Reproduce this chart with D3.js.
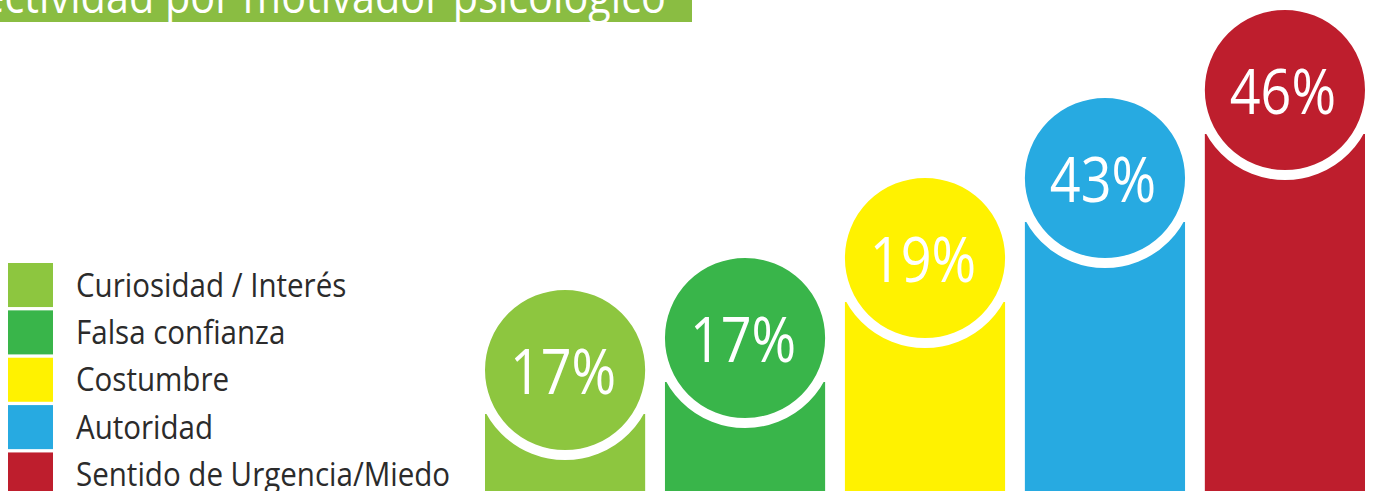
<!DOCTYPE html>
<html>
<head>
<meta charset="utf-8">
<script src="https://cdn.jsdelivr.net/npm/d3@7"></script>
<style>
  body { margin: 0; background: #fff; }
  svg { display: block; }
</style>
</head>
<body>
<div id="chart"></div>
<script>
var drawChart = function(){
	// Data
	var categories = ["Curiosidad / Interés", "Falsa confianza", "Costumbre", "Autoridad", "Sentido de Urgencia/Miedo"];
	var values = [17, 17, 19, 43, 46];
	var colors = ["#8dc63f", "#39b54a", "#fff200", "#27aae1", "#be1e2d"];
	var title = "Efectividad por motivador psicológico";

	// Size of the SVG
	const width = 1379;
	const height = 491;

	var fontFamily = "'Open Sans', 'Noto Sans', sans-serif";
	var textColor = "#2b2b2b";

	var svg = d3.select('#chart')
		.append('svg')
		.attr("width", width)
		.attr("height", height);

	var data = categories.map(function(c, i){
		return {"index": i, "category": c, "value": values[i], "color": colors[i]};
	});

	// Title banner, cut off at the top-left like the original
	svg.append("rect")
		.attr("x", 0).attr("y", 0)
		.attr("width", 692).attr("height", 22)
		.attr("fill", "#8abd42");

	// glyphs narrowed with scale(), the original font is condensed
	svg.append("g")
		.attr("transform", "translate(666,13) scale(0.92,1)")
		.append("text")
		.attr("text-anchor", "end")
		.attr("font-family", fontFamily)
		.attr("font-size", 45)
		.attr("fill", "white")
		.text(title);

	// Bars: band scale across, stepped levels up (the infographic is ranked, not proportional)
	var x = d3.scaleBand()
		.domain(categories)
		.range([485, 1365])
		.paddingInner(0.11)
		.paddingOuter(0);

	var level = d3.scaleLinear()
		.domain(d3.range(categories.length))
		.range([370, 338, 258, 178, 90]);

	var r = x.bandwidth() / 2;
	var ring = 10;

	var bars = svg.append("g").attr("class", "bars")
		.selectAll("g")
		.data(data)
		.enter().append("g");

	bars.append("rect")
		.attr("x", function(d){ return x(d.category); })
		.attr("y", function(d){ return level(d.index) + 44; })
		.attr("width", x.bandwidth())
		.attr("height", function(d){ return height - level(d.index) - 44; })
		.attr("fill", function(d){ return d.color; });

	bars.append("circle")
		.attr("cx", function(d){ return x(d.category) + r; })
		.attr("cy", function(d){ return level(d.index); })
		.attr("r", r + ring / 2)
		.attr("fill", function(d){ return d.color; })
		.attr("stroke", "white")
		.attr("stroke-width", ring);

	bars.append("g")
		.attr("transform", function(d){
			return "translate(" + (x(d.category) + r - 2) + "," + (level(d.index) + 24) + ") scale(0.87,1)";
		})
		.append("text")
		.attr("text-anchor", "middle")
		.attr("font-family", fontFamily)
		.attr("font-size", 62)
		.attr("fill", "white")
		.text(function(d){ return d.value + "%"; });

	// Legend
	var ly = d3.scaleBand()
		.domain(categories)
		.range([263, 263 + 46.7 * categories.length])
		.paddingInner(0.07)
		.paddingOuter(0);

	var legend = svg.append("g").attr("class", "legend")
		.selectAll("g")
		.data(data)
		.enter().append("g")
		.attr("transform", function(d){ return "translate(8," + ly(d.category) + ")"; });

	legend.append("rect")
		.attr("width", 45)
		.attr("height", ly.bandwidth())
		.attr("fill", function(d){ return d.color; });

	legend.append("g")
		.attr("transform", "translate(68,33.5) scale(0.895,1)")
		.append("text")
		.attr("font-family", fontFamily)
		.attr("font-size", 33)
		.attr("fill", textColor)
		.text(function(d){ return d.category; });
}

//Execute function
drawChart();
</script>
</body>
</html>
